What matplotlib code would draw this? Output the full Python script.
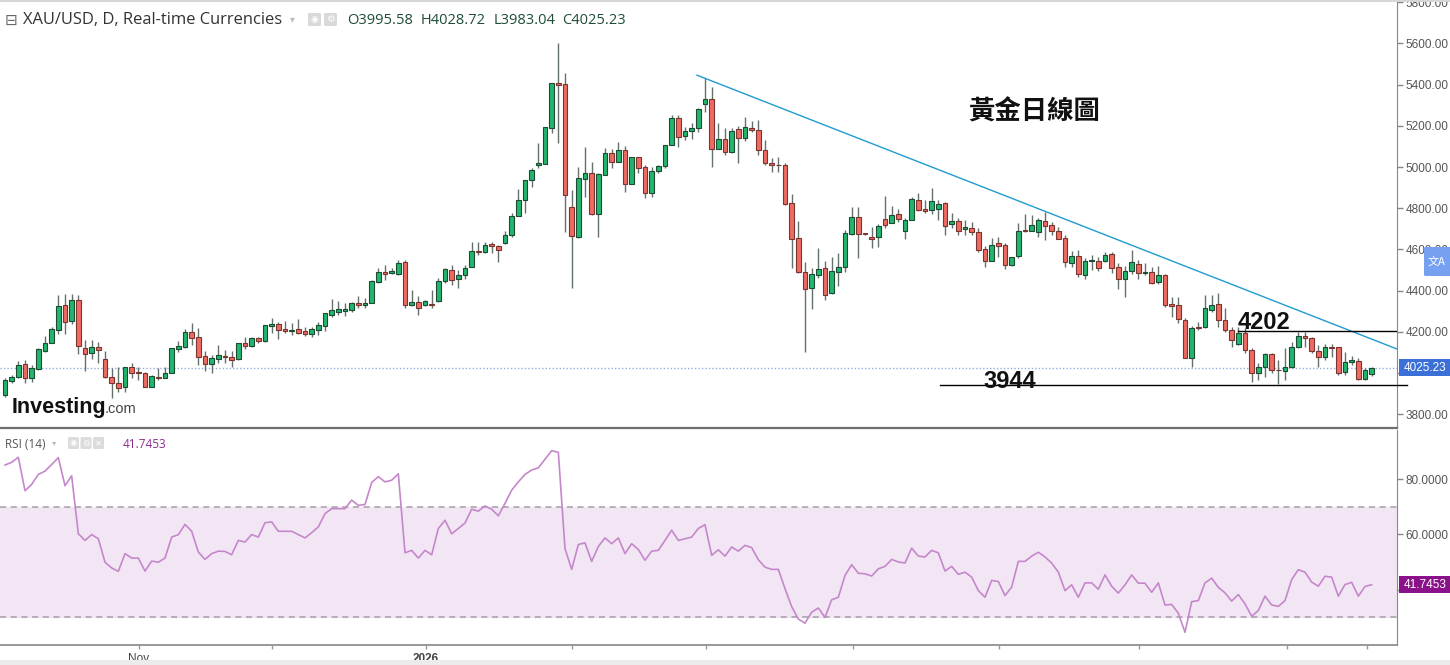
import matplotlib
matplotlib.use('Agg')
import matplotlib.pyplot as plt
from matplotlib.patches import FancyBboxPatch, Rectangle
import numpy as np

plt.rcParams['font.family'] = ['Liberation Sans', 'DejaVu Sans']

# ---------------- data ----------------
opens = [3893, 3963, 3982, 4044, 3974, 4018, 4107, 4147, 4209, 4330,
         4254, 4354, 4120, 4099, 4128, 4066, 3982, 3953, 3931, 4027,
         4006, 4001, 3934, 3982, 3977, 4001, 4116, 4128, 4200, 4173,
         4082, 4044, 4066, 4082, 4079, 4066, 4144, 4131, 4168, 4155,
         4228, 4238, 4212, 4205, 4212, 4205, 4189, 4209, 4228, 4282,
         4298, 4303, 4306, 4341, 4330, 4338, 4443, 4492, 4487, 4481,
         4540, 4330, 4346, 4330, 4335, 4351, 4448, 4500, 4455, 4476,
         4516, 4594, 4589, 4624, 4616, 4630, 4670, 4762, 4840, 4937,
         5008, 5015, 5188, 5406, 5401, 4804, 4662, 4940, 4969, 4772,
         4961, 5069, 5025, 5082, 4920, 5047, 4998, 4875, 4981, 5003,
         5107, 5236, 5150, 5175, 5188, 5304, 5329, 5086, 5136, 5075,
         5184, 5139, 5190, 5182, 5085, 5021, 5012, 5010, 4826, 4654,
         4492, 4411, 4476, 4511, 4389, 4492, 4513, 4673, 4759, 4676,
         4659, 4659, 4748, 4729, 4770, 4691, 4743, 4840, 4794, 4791,
         4794, 4823, 4723, 4739, 4697, 4702, 4686, 4600, 4545, 4629,
         4621, 4524, 4568, 4694, 4689, 4686, 4739, 4718, 4691, 4654,
         4535, 4568, 4476, 4542, 4545, 4545, 4578, 4513, 4455, 4496,
         4529, 4487, 4492, 4443, 4476, 4335, 4330, 4257, 4071, 4222,
         4222, 4306, 4335, 4257, 4209, 4141, 4192, 4112, 4001, 4030,
         4092, 4016, 4011, 4027, 4124, 4180, 4168, 4108, 4079, 4128,
         4124, 4006, 4055, 4060, 3969, 3995.58]
highs = [3974, 3990, 4060, 4063, 4039, 4120, 4180, 4221, 4379, 4383,
         4383, 4379, 4160, 4160, 4150, 4108, 4025, 4028, 4027, 4047,
         4030, 4006, 3990, 4023, 4030, 4120, 4157, 4212, 4244, 4217,
         4108, 4087, 4136, 4112, 4108, 4147, 4173, 4175, 4175, 4233,
         4265, 4249, 4254, 4241, 4261, 4225, 4225, 4249, 4293, 4358,
         4351, 4338, 4346, 4374, 4362, 4451, 4508, 4524, 4508, 4551,
         4548, 4403, 4374, 4354, 4403, 4460, 4508, 4524, 4500, 4524,
         4637, 4637, 4637, 4637, 4621, 4691, 4775, 4891, 4937, 4994,
         5115, 5193, 5406, 5600, 5455, 4888, 5002, 5096, 5025, 4969,
         5091, 5086, 5123, 5102, 5050, 5050, 5010, 5002, 5010, 5107,
         5252, 5252, 5196, 5212, 5285, 5430, 5387, 5212, 5188, 5188,
         5199, 5244, 5225, 5228, 5131, 5042, 5047, 5021, 4869, 4739,
         4540, 4508, 4605, 4545, 4562, 4584, 4694, 4804, 4804, 4678,
         4711, 4723, 4859, 4811, 4794, 4751, 4856, 4875, 4840, 4896,
         4840, 4831, 4775, 4751, 4743, 4735, 4702, 4616, 4654, 4659,
         4632, 4565, 4727, 4772, 4767, 4751, 4783, 4735, 4711, 4670,
         4594, 4597, 4557, 4573, 4561, 4589, 4589, 4532, 4519, 4597,
         4549, 4535, 4513, 4519, 4481, 4370, 4367, 4265, 4228, 4249,
         4379, 4379, 4387, 4314, 4225, 4225, 4217, 4120, 4050, 4099,
         4099, 4063, 4120, 4152, 4200, 4200, 4176, 4136, 4141, 4141,
         4128, 4103, 4082, 4071, 4023, 4028.72]
lows = [3885, 3951, 3974, 3951, 3956, 4013, 4100, 4144, 4189, 4189,
        4240, 4090, 4011, 4068, 4051, 3974, 3880, 3909, 3909, 3974,
        3966, 3931, 3931, 3966, 3974, 3998, 4103, 4120, 4136, 4039,
        4011, 4001, 4050, 4050, 4028, 4063, 4115, 4128, 4147, 4152,
        4193, 4164, 4193, 4184, 4189, 4180, 4173, 4184, 4205, 4270,
        4282, 4277, 4298, 4314, 4314, 4338, 4435, 4451, 4481, 4478,
        4314, 4325, 4282, 4325, 4314, 4346, 4435, 4427, 4411, 4455,
        4516, 4573, 4581, 4584, 4540, 4626, 4662, 4762, 4775, 4904,
        4994, 5015, 5164, 5115, 4686, 4411, 4654, 4856, 4767, 4662,
        4961, 4994, 5025, 4880, 4920, 4969, 4848, 4856, 4969, 4994,
        5107, 5099, 5131, 5134, 5171, 5268, 4998, 5086, 5058, 5066,
        5018, 5126, 5171, 5058, 5010, 4977, 4977, 4815, 4508, 4484,
        4103, 4309, 4460, 4354, 4383, 4422, 4492, 4670, 4557, 4672,
        4605, 4613, 4702, 4735, 4735, 4649, 4743, 4788, 4775, 4772,
        4743, 4670, 4702, 4670, 4670, 4670, 4589, 4513, 4545, 4561,
        4503, 4519, 4557, 4686, 4694, 4659, 4646, 4670, 4649, 4513,
        4516, 4467, 4455, 4500, 4496, 4540, 4484, 4406, 4367, 4481,
        4455, 4476, 4432, 4432, 4322, 4273, 4241, 4071, 4028, 4209,
        4217, 4298, 4225, 4200, 4128, 4136, 4095, 3958, 3966, 3982,
        3998, 3947, 3966, 4023, 4120, 4128, 4099, 4030, 4063, 4079,
        3990, 3990, 4039, 3966, 3966, 3983.04]
closes = [3966, 3982, 4039, 3974, 4023, 4115, 4144, 4212, 4327, 4249,
          4354, 4129, 4092, 4128, 4112, 3979, 3950, 3926, 4027, 4001,
          3998, 3931, 3985, 3976, 4001, 4120, 4131, 4200, 4168, 4079,
          4044, 4071, 4087, 4076, 4063, 4144, 4131, 4168, 4157, 4233,
          4238, 4209, 4204, 4210, 4196, 4189, 4212, 4233, 4290, 4306,
          4309, 4309, 4341, 4330, 4341, 4448, 4492, 4481, 4496, 4535,
          4330, 4346, 4314, 4351, 4330, 4448, 4503, 4451, 4476, 4511,
          4594, 4587, 4621, 4616, 4597, 4670, 4764, 4840, 4937, 4985,
          5018, 5193, 5406, 5398, 4864, 4665, 4945, 4969, 4772, 4964,
          5069, 5025, 5082, 4920, 5047, 4993, 4875, 4982, 5003, 5107,
          5236, 5147, 5175, 5190, 5281, 5329, 5087, 5136, 5075, 5175,
          5139, 5193, 5180, 5082, 5018, 5010, 5008, 4820, 4649, 4492,
          4406, 4479, 4505, 4379, 4496, 4513, 4678, 4759, 4675, 4675,
          4649, 4714, 4718, 4767, 4746, 4743, 4845, 4791, 4788, 4833,
          4820, 4714, 4739, 4691, 4711, 4683, 4597, 4545, 4621, 4618,
          4524, 4561, 4691, 4689, 4718, 4743, 4714, 4691, 4649, 4540,
          4568, 4479, 4545, 4549, 4508, 4573, 4508, 4455, 4496, 4540,
          4484, 4492, 4435, 4476, 4330, 4325, 4260, 4071, 4217, 4217,
          4314, 4330, 4257, 4209, 4160, 4196, 4112, 4001, 4030, 4092,
          4014, 4013, 4030, 4124, 4180, 4168, 4108, 4079, 4124, 4123,
          4001, 4055, 4063, 3969, 4014, 4025.23]
rsi = [85.1, 86.1, 87.9, 75.8, 78.1, 81.7, 82.9, 85.3, 87.8, 77.6,
       81.2, 60.2, 57.8, 59.9, 58.4, 49.9, 47.8, 46.6, 53.0, 51.4,
       51.4, 46.7, 50.3, 49.9, 51.4, 59.0, 59.9, 63.6, 61.1, 53.6,
       50.9, 53.0, 53.9, 53.8, 52.6, 57.8, 57.2, 59.9, 59.0, 64.2,
       64.5, 61.1, 61.1, 61.1, 59.9, 58.7, 60.6, 62.7, 67.5, 69.3,
       69.3, 69.3, 72.4, 70.5, 70.8, 78.8, 80.9, 79.0, 79.6, 81.9,
       53.3, 54.2, 51.4, 54.2, 52.6, 62.1, 65.1, 60.2, 62.1, 64.1,
       69.1, 68.4, 70.3, 69.1, 66.7, 71.2, 76.0, 79.0, 81.7, 83.3,
       84.1, 87.2, 90.3, 89.7, 54.8, 47.3, 56.3, 56.9, 50.2, 55.6,
       58.7, 56.6, 58.7, 53.0, 56.6, 54.5, 50.6, 53.9, 54.2, 57.8,
       61.5, 57.8, 58.4, 59.0, 62.1, 63.5, 52.4, 54.4, 52.1, 55.4,
       53.9, 56.0, 55.2, 50.8, 48.1, 47.3, 47.3, 40.3, 33.8, 29.3,
       27.8, 31.8, 33.3, 29.9, 36.3, 37.2, 45.1, 49.0, 45.9, 45.7,
       44.9, 47.5, 48.4, 50.9, 50.0, 49.6, 55.0, 52.1, 51.8, 54.2,
       53.3, 46.7, 48.4, 45.5, 46.3, 44.5, 39.6, 37.2, 43.3, 42.9,
       37.8, 40.9, 50.2, 50.2, 52.1, 53.5, 51.8, 49.6, 46.3, 39.6,
       41.7, 37.2, 42.4, 42.4, 40.1, 45.3, 41.2, 38.7, 41.7, 45.3,
       42.3, 42.3, 39.0, 42.4, 34.4, 34.6, 31.4, 24.5, 35.6, 36.0,
       42.4, 44.1, 40.8, 38.8, 35.8, 38.2, 34.8, 30.3, 32.4, 37.6,
       34.4, 33.9, 36.0, 43.6, 47.2, 46.3, 42.7, 41.2, 44.8, 44.5,
       37.6, 41.8, 42.6, 37.6, 41.1, 41.7453]

price_ticks = [3800, 4000, 4200, 4400, 4600, 4800, 5000, 5200, 5400, 5600, 5800]
rsi_ticks = [40, 60, 80]
rsi_band = (30, 70)
date_tick_pos = [20.1, 40.05, 63.1, 85.0, 105.1, 127.2, 149.1, 170.1, 192.3, 204.3]
date_tick_labels = ['Nov', '', '2026', '', '', '', '', '', '', '']
last_price = 4025.23
last_rsi = 41.7453
resistance = 4202
support = 3944
trend_x = [103.8, 208.8]
trend_y = [5446, 4116.5]
resist_x = [184.9, 208.8]
support_x = [140.2, 210.3]
title_cn = '黃金日線圖'
header_name = 'XAU/USD, D, Real-time Currencies'
ohlc_labels = ['O', 'H', 'L', 'C']
ohlc_values = [3995.58, 4028.72, 3983.04, 4025.23]

# ---------------- figure ----------------
W, H = 1450, 665
fig = plt.figure(figsize=(W / 100, H / 100), dpi=100)

def fx(x):
    return x / W

def fy(y):
    return 1 - y / H

ax = fig.add_axes([0, fy(428), fx(1397), 428 / H])
axr = fig.add_axes([0, fy(645), fx(1397), (645 - 430) / H])

o = np.array(opens); h = np.array(highs); l = np.array(lows); c = np.array(closes)
x = np.arange(len(o))
up = c >= o
bottom = np.minimum(o, c)
height = np.maximum(np.abs(c - o), 3)

ax.vlines(x, l, h, color='#63716a', lw=1, zorder=2)
ax.bar(x[up], height[up], bottom=bottom[up], width=0.7, color='#22b56d',
       edgecolor='#1c4a33', linewidth=0.8, zorder=3)
ax.bar(x[~up], height[~up], bottom=bottom[~up], width=0.7, color='#ee6b61',
       edgecolor='#7b3530', linewidth=0.8, zorder=3)

ax.set_xlim(-0.75, 208.8)
ax.set_ylim(3733, 5811)
ax.set_xticks([])
ax.yaxis.tick_right()
ax.set_yticks(price_ticks)
# the 4000 label sits fully under the current-price box
ax.set_yticklabels(['' if abs(v - last_price) < 60 else f'{v:.2f}' for v in price_ticks])
ax.tick_params(axis='y', direction='out', length=4, width=1, colors='#888',
               labelcolor='#555', labelsize=8.5, pad=2)
for s in ['top', 'left']:
    ax.spines[s].set_visible(False)
ax.spines['right'].set_color('#888')
ax.spines['bottom'].set_color('#6e6e6e')
ax.spines['bottom'].set_linewidth(1.6)

# current price line
ax.axhline(last_price, color='#93abe0', lw=1, ls=(0, (1, 1.5)), zorder=1)
# trend line and levels
ax.plot(trend_x, trend_y, color='#1f9bd0', lw=1, zorder=4, clip_on=False)
ax.plot(resist_x, [resistance, resistance], color='black', lw=1, zorder=4)
ax.plot(support_x, [support, support], color='black', lw=1, zorder=4, clip_on=False)
ax.text(184.9, 4213, f'{resistance}', fontsize=17, fontweight='bold',
        ha='left', va='baseline', color='#111', zorder=5)
ax.text(146.7, 3927, f'{support}', fontsize=17, fontweight='bold',
        ha='left', va='baseline', color='#111', zorder=5)
ax.text(144.5, 5265, title_cn, fontsize=19, fontweight='bold', ha='left', va='center',
        color='#111', family=['Noto Sans CJK TC', 'DejaVu Sans'])

# price label box (17 px tall, from the axis line to the right edge)
yt = ax.get_yaxis_transform()
box_w = 52 / 1397
ax.add_patch(Rectangle((1.0015, last_price - 41), box_w, 82, transform=yt,
                       fc='#3b70d8', ec='none', clip_on=False, zorder=10))
ax.text(1.0015 + box_w / 2, last_price, f'{last_price:.2f}', transform=yt,
        ha='center', va='center', color='white', fontsize=8.5, clip_on=False, zorder=11)

# ---------------- RSI panel ----------------
axr.axhspan(rsi_band[0], rsi_band[1], color='#f3e6f4', zorder=0)
for v in rsi_band:
    axr.axhline(v, color='#a79ea9', lw=1.1, ls=(0, (4, 3)), zorder=1)
axr.plot(x, rsi, color='#c587cb', lw=1.2, zorder=3)
axr.set_xlim(-0.75, 208.8)
axr.set_ylim(19.9, 97.8)
axr.yaxis.tick_right()
axr.set_yticks(rsi_ticks)
axr.set_yticklabels(['' if abs(v - last_rsi) < 3 else f'{v:.4f}' for v in rsi_ticks])
axr.tick_params(axis='y', direction='out', length=4, width=1, colors='#888',
                labelcolor='#555', labelsize=8.5, pad=2)
axr.set_xticks(date_tick_pos)
axr.set_xticklabels(date_tick_labels)
axr.tick_params(axis='x', direction='out', length=3, width=1, colors='#999',
                labelcolor='#444', labelsize=8.5, pad=2.5)
for lbl in axr.get_xticklabels():
    if lbl.get_text() == '2026':
        lbl.set_fontweight('bold')
for s in ['top', 'left']:
    axr.spines[s].set_visible(False)
axr.spines['right'].set_color('#888')
axr.spines['bottom'].set_color('#888')
axr.spines['bottom'].set_linewidth(1.2)
yr = axr.get_yaxis_transform()
axr.add_patch(Rectangle((1.0015, last_rsi - 3.1), box_w, 6.2, transform=yr,
                        fc='#8a118a', ec='none', clip_on=False, zorder=10))
axr.text(1.0015 + box_w / 2, last_rsi, f'{last_rsi:.4f}', transform=yr,
         ha='center', va='center', color='white', fontsize=8.5, clip_on=False, zorder=11)

# ---------------- header texts ----------------
hdr_font = ['Open Sans', 'DejaVu Sans']
fig.text(fx(5), fy(20), '⊟', fontsize=11, color='#666', va='center', ha='left',
         family=['DejaVu Sans'])
fig.text(fx(23), fy(20), header_name, fontsize=11.9, color='#333', va='center',
         ha='left', family=hdr_font)
fig.text(fx(290), fy(19), '▾', fontsize=7, color='#bbb', va='center', ha='left',
         family=['DejaVu Sans'])
ohlc_x = [347, 421, 494, 562]
for xx, lab, val in zip(ohlc_x, ohlc_labels, ohlc_values):
    fig.text(fx(xx), fy(20), f'{lab}{val:.2f}', fontsize=10.5, color='#1f4d35',
             va='center', ha='left', family=hdr_font)

# icon squares
def px_rect(x0, y0, w, h, **kw):
    p = FancyBboxPatch((x0 / 100, (H - y0 - h) / 100), w / 100, h / 100,
                       boxstyle='round,pad=0,rounding_size=0.015',
                       transform=fig.dpi_scale_trans, **kw)
    fig.patches.append(p)

for x0 in [308, 324]:
    px_rect(x0, 13, 13, 13, fc='#d9d9d9', ec='none')
fig.text(fx(314.5), fy(19.5), '◉', fontsize=6.5, color='white', ha='center', va='center',
         family=['DejaVu Sans'])
fig.text(fx(330.5), fy(19.5), '⚙', fontsize=7, color='white', ha='center', va='center',
         family=['DejaVu Sans'])

# RSI header
fig.text(fx(5), fy(444), 'RSI (14)', fontsize=8.5, color='#555', va='center', ha='left',
         family=hdr_font)
fig.text(fx(52), fy(443), '▾', fontsize=6, color='#bbb', va='center', ha='left',
         family=['DejaVu Sans'])
for x0, sym in zip([68, 80.5, 93], ['◉', '⚙', '✕']):
    px_rect(x0, 437, 11, 12, fc='#dcdcdc', ec='none')
    fig.text(fx(x0 + 5.5), fy(443), sym, fontsize=6, color='white', ha='center',
             va='center', family=['DejaVu Sans'])
fig.text(fx(123), fy(444), f'{last_rsi:.4f}', fontsize=8.5, color='#8b2b8b', va='center',
         ha='left', family=hdr_font)

# logo
fig.text(fx(12), fy(413), 'Investing', fontsize=15.5, fontweight='bold', color='#111',
         va='baseline', ha='left')
fig.text(fx(105), fy(413), '.com', fontsize=10.5, color='#444', va='baseline', ha='left')

# translate badge
px_rect(1424, 247, 30, 29, fc='#76a0f0', ec='none')
fig.text(fx(1437), fy(262), '文A', fontsize=8, color='white', ha='center', va='center',
         family=['Noto Sans CJK SC', 'DejaVu Sans'])

# frame strips
fig.patches.append(Rectangle((0, 0), W / 100, 0.05, transform=fig.dpi_scale_trans,
                             fc='#ececec', ec='none'))
fig.patches.append(Rectangle((0, (H - 2) / 100), W / 100, 0.02, transform=fig.dpi_scale_trans,
                             fc='#d6d6d6', ec='none'))

fig.savefig('out.png', dpi=100)
